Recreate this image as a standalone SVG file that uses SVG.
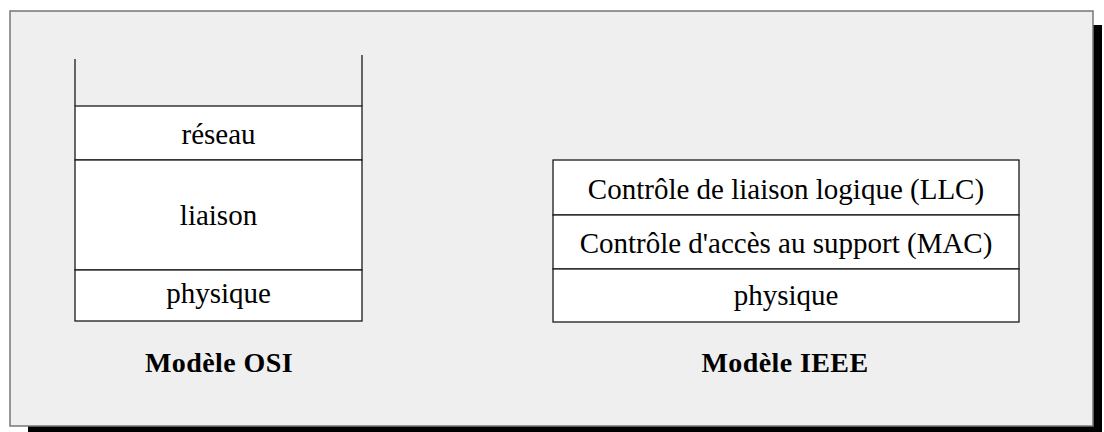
<svg xmlns="http://www.w3.org/2000/svg" width="1104" height="432" viewBox="0 0 1104 432">
<style>
.box{fill:#ffffff;stroke:#1a1a1a;stroke-width:1.3}
.edge{fill:none;stroke:#1a1a1a;stroke-width:1.3}
.t{font-family:"Liberation Serif","Times New Roman",serif;font-size:29px;fill:#000;text-anchor:middle}
.title{font-family:"Liberation Serif","Times New Roman",serif;font-size:28px;font-weight:bold;fill:#000;text-anchor:middle;letter-spacing:0.4px}
</style>
<rect x="28" y="25" width="1074" height="410" fill="#000"/>
<rect x="10" y="11" width="1083" height="415" fill="#efefef" stroke="#777" stroke-width="1.5"/>
<g id="osi">
  <line class="edge" x1="75" y1="59" x2="75" y2="106"/>
  <line class="edge" x1="362" y1="55" x2="362" y2="106"/>
  <g id="osi-reseau"><rect class="box" x="75" y="106" width="287" height="54"/><text class="t" x="218.5" y="144">réseau</text></g>
  <g id="osi-liaison"><rect class="box" x="75" y="160" width="287" height="110"/><text class="t" x="218.5" y="225">liaison</text></g>
  <g id="osi-physique"><rect class="box" x="75" y="270" width="287" height="51"/><text class="t" x="218.5" y="303">physique</text></g>
  <text class="title" x="219" y="372">Modèle OSI</text>
</g>
<g id="ieee">
  <g id="ieee-llc"><rect class="box" x="553" y="160" width="466" height="55"/><text class="t" x="786" y="199">Contrôle de liaison logique (LLC)</text></g>
  <g id="ieee-mac"><rect class="box" x="553" y="215" width="466" height="54"/><text class="t" x="786" y="253">Contrôle d'accès au support (MAC)</text></g>
  <g id="ieee-physique"><rect class="box" x="553" y="269" width="466" height="53"/><text class="t" x="786" y="305">physique</text></g>
  <text class="title" x="785" y="372">Modèle IEEE</text>
</g>
</svg>
